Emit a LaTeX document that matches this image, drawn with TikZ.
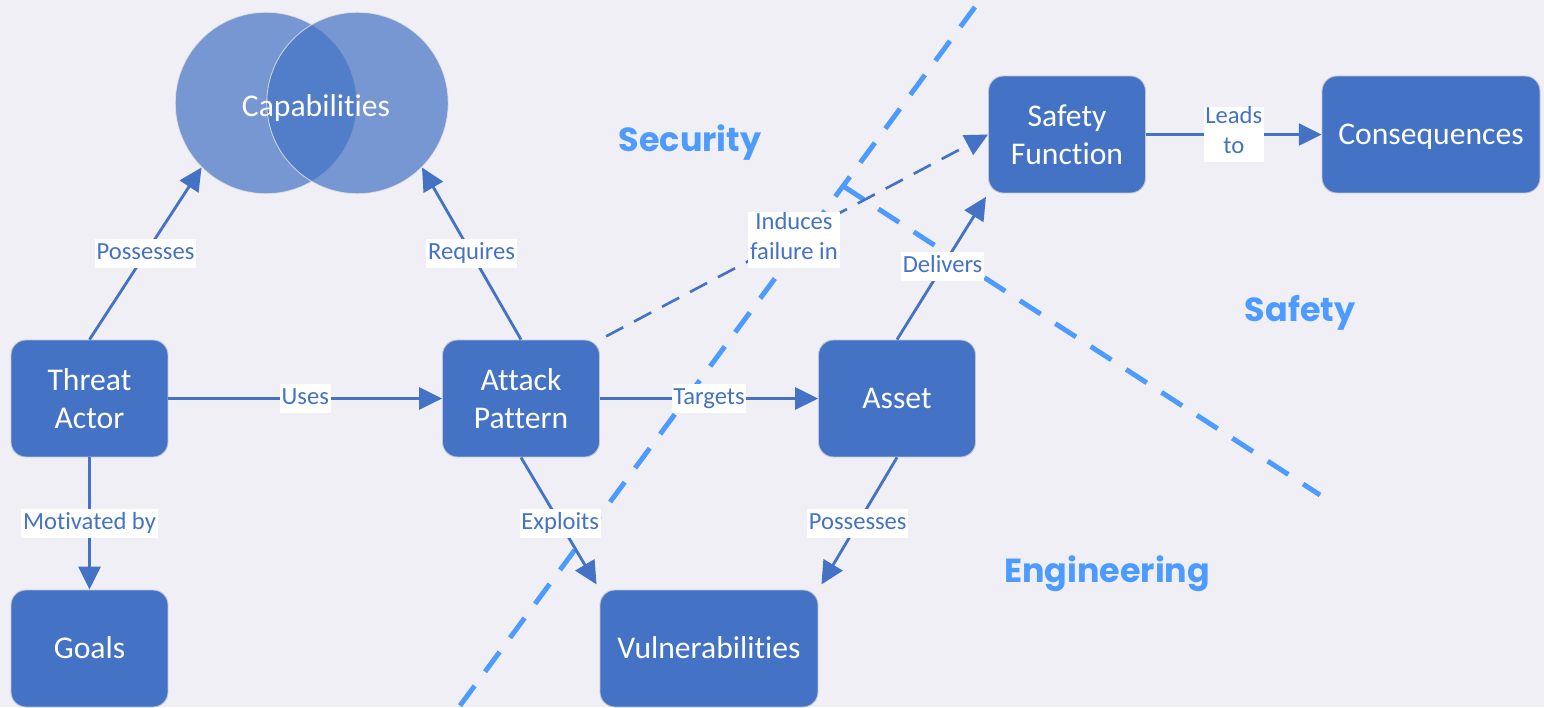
\documentclass[tikz,border=0pt]{standalone}
\usepackage{fontspec}
\setmainfont{Carlito}[Ligatures={NoCommon}]
\newfontfamily\regionfont{Poppins}
\usetikzlibrary{arrows.meta}
\definecolor{bg}{RGB}{239,239,245}
\definecolor{boxblue}{RGB}{68,114,196}
\definecolor{zoneblue}{RGB}{77,155,255}
\definecolor{edgegray}{RGB}{190,196,212}

\tikzset{
  entity/.style={rectangle, rounded corners=0.3cm, fill=boxblue, draw=edgegray,
    line width=0.5pt, text=white, align=center, minimum width=3.14cm,
    minimum height=2.34cm, inner sep=2pt, font=\fontsize{18}{21.6}\selectfont},
  widebox/.style={entity, minimum width=4.36cm},
  oneline/.style={text height=11.6pt, text depth=0pt},
  rel/.style={draw=boxblue, line width=1.6pt, -{Triangle[length=13pt,width=12.5pt]}},
  reldash/.style={rel, line width=1.5pt, dash pattern=on 11pt off 7pt},
  tag/.style={fill=white, text=boxblue, inner xsep=1pt, inner ysep=0pt, align=center,
    font=\fontsize{14}{17}\selectfont, execute at begin node=\strut,
    execute at end node=\strut},
  zone/.style={draw=zoneblue, line width=2.8pt, dash pattern=on 14pt off 10pt},
  zonetitle/.style={text=zoneblue, inner sep=0pt,
    font=\regionfont\bfseries\fontsize{19}{23}\selectfont},
  venn/.style={circle, minimum size=3.63cm, inner sep=0pt, fill=boxblue,
    fill opacity=0.7, draw=white!80!gray, draw opacity=0.8, line width=0.5pt},
}

\begin{document}
\begin{tikzpicture}[x=0.02cm, y=-0.02cm]
% canvas
\fill[bg] (0,0) rectangle (1544,707);
\useasboundingbox (0,0) rectangle (1544,707);

% domain boundaries
\coordinate (zA) at (975,7);
\coordinate (zB) at (459,707);
\coordinate (zC) at (843,186);
\coordinate (zD) at (1320,495);
\draw[zone] (zA) -- (zB);
\draw[zone] (zC) -- (zD);

% capabilities venn
\node[venn] (capL) at (266,103) {};
\node[venn] (capR) at (357.5,103) {};
\node[text=white, oneline, font=\fontsize{18}{21.6}\selectfont] (cap) at (316,106) {Capabilities};

% entities
\node[entity] (ta) at (89.5,398.5) {Threat\\Actor};
\node[entity, oneline] (goals) at (89.5,648.5) {Goals};
\node[entity] (ap) at (521,398.5) {Attack\\Pattern};
\node[entity, oneline] (asset) at (897,398.5) {Asset};
\node[widebox, oneline] (vul) at (709,648.5) {Vulnerabilities};
\node[entity] (sf) at (1067,134.5) {Safety\\Function};
\node[widebox, oneline] (cons) at (1431,134.5) {Consequences};

% relations
\draw[rel] (ta.north) -- node[tag] {Possesses} (capL.225);
\draw[rel] (ap.north) -- node[tag] {Requires} (capR.315);
\draw[rel] (ta.east) -- node[tag] {Uses} (ap.west);
\draw[rel] (ta.south) -- node[tag] {Motivated by} (goals.north);
\draw[rel] (ap.east) -- node[tag] {Targets} (asset.west);
\draw[rel, shorten >=0.12cm] (ap.south) -- node[tag] {Exploits} (vul.north west);
\draw[rel, shorten >=0.12cm] (asset.south) -- node[tag] {Possesses} (vul.north east);
\draw[rel, shorten >=0.08cm] (asset.north) -- node[tag] {Delivers} (sf.south west);
\draw[reldash, shorten <=0.14cm] (ap.north east) -- node[tag, yshift=-0.06cm] {Induces\\failure in} (sf.west);
\draw[rel] (sf.east) -- node[tag] {Leads\\to} (cons.west);

% domain titles
\node[zonetitle] (secT) at (690,143) {Security};
\node[zonetitle] (safT) at (1300,313) {Safety};
\node[zonetitle] (engT) at (1107,574) {Engineering};
\end{tikzpicture}
\end{document}
